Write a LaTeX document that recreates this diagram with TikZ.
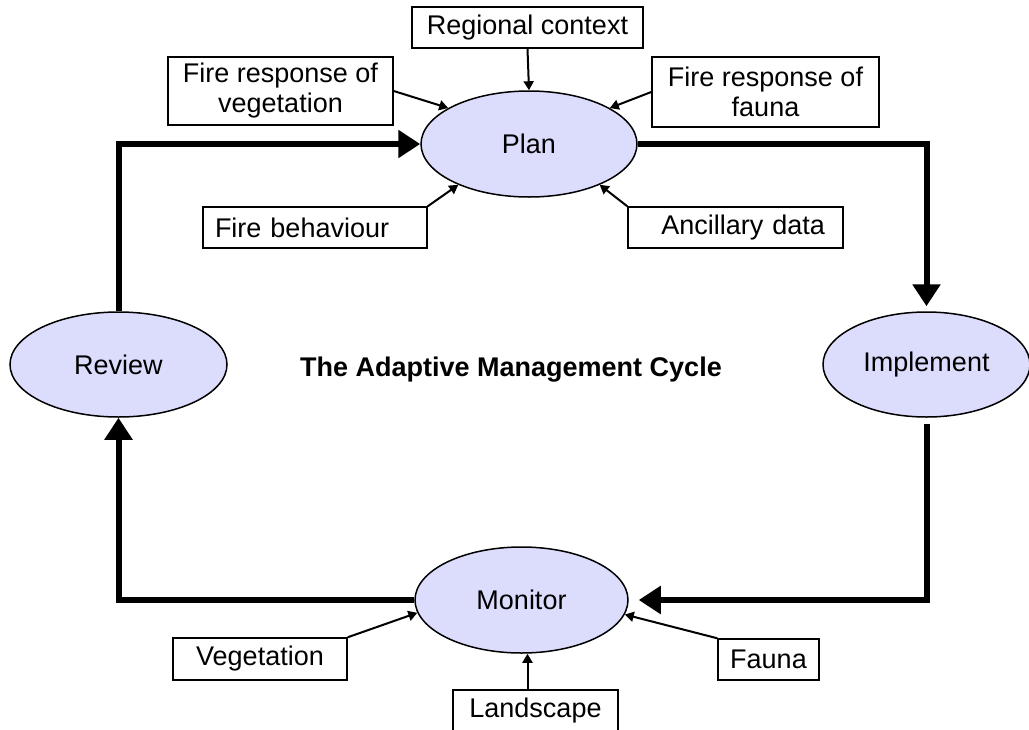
\documentclass[tikz,border=0pt]{standalone}
\usepackage{fontspec}
\setmainfont{Liberation Sans}
\usetikzlibrary{shapes.geometric,arrows.meta}
\definecolor{stagefill}{RGB}{220,220,252}
\tikzset{
  stage/.style={ellipse,draw,line width=1.5pt,fill=stagefill,inner sep=0pt},
  inbox/.style={rectangle,draw,line width=1.5pt,inner sep=0pt,align=center},
  cyclearrow/.style={line width=6pt,-{Triangle[length=22pt,width=27pt]}},
  feedarrow/.style={line width=2pt,-{Triangle[length=9pt,width=10pt]}}
}
\begin{document}
\begin{tikzpicture}[x=1pt,y=-1pt,font=\fontsize{27}{30}\selectfont] %Unidade em pontos, y para baixo
  \useasboundingbox (0,0) rectangle (1029,729); %Margens da figura
    %Etapas do ciclo
  \node[stage,minimum width=216,minimum height=106] (plan) at (529,144) {Plan};
  \node[stage,minimum width=217,minimum height=105] (review) at (118.5,364.5) {Review};
  \node[stage,minimum width=207,minimum height=105] (implement) at (926.5,364.5) {Implement};
  \node[stage,minimum width=213,minimum height=106] (monitor) at (521.5,600) {Monitor};
  \node[font=\fontsize{27}{30}\selectfont\bfseries] (title) at (511,370) {The Adaptive Management Cycle}; %Titulo
    %Entradas do planejamento
  \node[inbox,minimum width=231,minimum height=41] (regional) at (527.5,27.5) {Regional context};
  \node[inbox,minimum width=225,minimum height=68] (vegresp) at (280.5,91) {Fire response of\\vegetation};
  \node[inbox,minimum width=227,minimum height=70] (faunaresp) at (765.5,92) {Fire response of\\fauna};
  \node[inbox,minimum height=41,text width=200,inner xsep=12,align=left] (behaviour) at (315,227.5) {Fire behaviour};
  \node[inbox,minimum height=41,text width=179,inner xsep=18,align=right] (ancillary) at (735.5,227.5) {Ancillary data};
    %Entradas do monitoramento
  \node[inbox,minimum width=174,minimum height=42] (vegetation) at (260,659) {Vegetation};
  \node[inbox,minimum width=101,minimum height=41] (fauna) at (768.5,659.5) {Fauna};
  \node[inbox,minimum width=165,minimum height=41] (landscape) at (535.5,710.5) {Landscape};
    %Setas finas
  \draw[feedarrow] (regional.south) -- (plan.north);
  \draw[feedarrow] (vegresp.east) -- (plan.156);
  \draw[feedarrow] (faunaresp.west) -- (plan.24);
  \draw[feedarrow] (behaviour.north east) -- (plan.210);
  \draw[feedarrow] (ancillary.north west) -- (plan.330);
  \draw[feedarrow] (vegetation.north east) -- (monitor.187);
  \draw[feedarrow] (fauna.north west) -- (monitor.352);
  \draw[feedarrow] ([xshift=-8]landscape.north) -- ([xshift=-8]landscape.north |- monitor.south);
    %Ciclo
  \draw[cyclearrow] (review.north) |- (plan.west);
  \draw[cyclearrow,shorten >=5] (plan.east) -| (implement.north);
  \draw[cyclearrow,shorten <=6,shorten >=10] (implement.south) |- (monitor.east);
  \draw[cyclearrow] (monitor.west) -| (review.south);
\end{tikzpicture}
\end{document}
